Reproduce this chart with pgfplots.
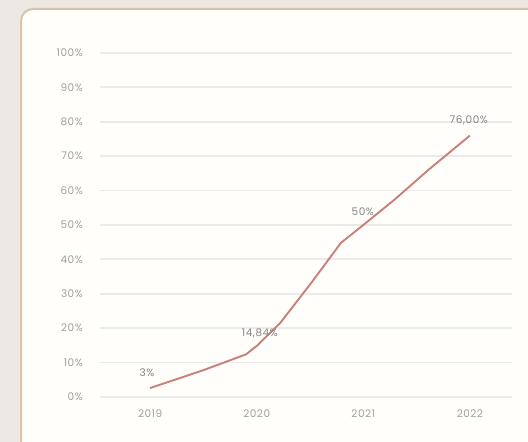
\documentclass[border=0pt]{standalone}
\usepackage{pgfplots}
\pgfplotsset{compat=1.18}
\usepackage{fontspec}
\setmainfont{Poppins}[LetterSpace=5]
\definecolor{bgbeige}{HTML}{EDE8E3}
\definecolor{cardfill}{HTML}{FFFEFA}
\definecolor{cardborder}{HTML}{D6C5AC}
\definecolor{gridc}{HTML}{EAEAEA}
\definecolor{linec}{HTML}{C8807A}
\definecolor{tickc}{HTML}{A0A0A0}
\definecolor{labc}{HTML}{858585}
\begin{document}
\begin{tikzpicture}[x=1pt,y=1pt]
\useasboundingbox (0,0) rectangle (528,442);
\begin{scope}
\clip (0,0) rectangle (528,442);
\fill[bgbeige] (0,0) rectangle (528,442);
\draw[cardborder, line width=2pt, fill=cardfill, rounded corners=12pt] (21,-20) rectangle (545,433);
\end{scope}
\begin{axis}[
  at={(100pt,45pt)}, anchor=south west,
  scale only axis, width=412pt, height=344pt,
  xmin=2018.530, xmax=2022.395, ymin=0, ymax=100,
  axis line style={draw=none},
  major tick length=0pt,
  xtick={2019,2020,2021,2022},
  xticklabels={2019,2020,2021,2022},
  ytick={0,10,20,30,40,50,60,70,80,90,100},
  yticklabels={0\%,10\%,20\%,30\%,40\%,50\%,60\%,70\%,80\%,90\%,100\%},
  ymajorgrids,
  grid style={gridc, line width=1.8pt},
  tick label style={font=\fontsize{10.5}{12}\selectfont, text=tickc, inner sep=0pt},
  yticklabel style={anchor=east, xshift=-17pt},
  xticklabel style={anchor=center, yshift=-17pt},
  clip=false,
]
\addplot[linec, line width=1.9pt, line join=round] coordinates {
  (2019.00, 2.6)
  (2019.50, 7.8)
  (2019.90, 12.4)
  (2020.00, 14.84)
  (2020.22, 21.5)
  (2020.51, 33.1)
  (2020.79, 44.8)
  (2021.00, 50)
  (2021.29, 57.3)
  (2021.61, 66)
  (2022.00, 76)
};
\begin{scope}[every node/.style={font=\fontsize{10.5}{12}\selectfont, text=labc, inner sep=0pt}]
\node at (axis cs:2018.97,7.2) {3\%};
\node at (axis cs:2020.03,18.4) {14,84\%};
\node at (axis cs:2020.995,53.8) {50\%};
\node at (axis cs:2021.99,80.3) {76,00\%};
\end{scope}
\end{axis}
\end{tikzpicture}
\end{document}
